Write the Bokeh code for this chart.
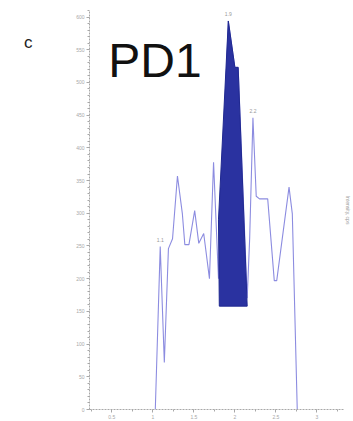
from bokeh.plotting import figure
from bokeh.models import (Label, Range1d, SingleIntervalTicker, ColumnDataSource,
                          LinearAxis, FixedTicker)
from bokeh.core.properties import value
from bokeh.embed import file_html
from bokeh.resources import INLINE

# ---- data ----
line_x = [1.03, 1.09, 1.14, 1.19, 1.24, 1.30, 1.36, 1.39, 1.44, 1.51, 1.56, 1.62, 1.69,
          1.74, 1.80, 1.92, 2.00, 2.04, 2.15, 2.18, 2.22, 2.26, 2.30, 2.40, 2.48, 2.51,
          2.66, 2.70, 2.76]
line_y = [0, 249, 72, 246, 261, 357, 299, 252, 252, 304, 254, 269, 200,
          378, 200, 594, 523, 523, 170, 261, 446, 326, 322, 322, 197, 197,
          340, 299, 0]

fill_x = [1.81, 1.80, 1.92, 2.00, 2.04, 2.15]
fill_y = [158, 290, 594, 523, 523, 158]

peak_x = [1.09, 1.92, 2.22]
peak_y = [249, 594, 446]
peak_text = ["1.1", "1.9", "2.2"]

panel_tick = [561]
panel_letter = {561: "c"}

FONT = "Liberation Sans"
GRAY = "#a8a8a8"

p = figure(width=353, height=421, output_backend="svg", toolbar_location=None,
           x_range=Range1d(0.228, 3.336), y_range=Range1d(0, 610),
           min_border_left=89, min_border_right=5, min_border_top=10,
           min_border_bottom=0)
p.background_fill_color = "white"
p.border_fill_color = "white"
p.outline_line_color = None
p.xgrid.grid_line_color = None
p.ygrid.grid_line_color = None

p.xaxis.ticker = SingleIntervalTicker(interval=0.5, num_minor_ticks=2)
p.yaxis.ticker = SingleIntervalTicker(interval=50, num_minor_ticks=5)
for ax in (p.xaxis[0], p.yaxis[0]):
    ax.axis_line_color = GRAY
    ax.axis_line_dash = "2 1"
    ax.major_tick_line_color = GRAY
    ax.minor_tick_line_color = GRAY
    ax.major_tick_out = 3
    ax.major_tick_in = 0
    ax.minor_tick_out = 2
    ax.minor_tick_in = 0
    ax.major_label_text_font_size = "5px"
    ax.major_label_text_color = GRAY
    ax.major_label_text_font = FONT
    ax.major_label_standoff = 2

# panel letter "c" as an outer left axis with a single labelled tick
letter_axis = LinearAxis(ticker=FixedTicker(ticks=panel_tick),
                         major_label_overrides=panel_letter,
                         axis_line_color=None, major_tick_line_color=None,
                         minor_tick_line_color=None,
                         major_label_text_font=FONT,
                         major_label_text_font_size="17px",
                         major_label_text_color="#222222",
                         major_label_standoff=35)
p.add_layout(letter_axis, "left")

# right-side rotated caption
cap_axis = LinearAxis(ticker=FixedTicker(ticks=[]), axis_line_color=None,
                      major_tick_line_color=None, minor_tick_line_color=None,
                      major_label_text_font_size="0px",
                      axis_label="Intensity, cps", axis_label_text_font=FONT,
                      axis_label_text_font_size="5px",
                      axis_label_text_font_style="normal",
                      axis_label_text_color="#999999", axis_label_standoff=0)
p.add_layout(cap_axis, "right")

# chromatogram trace
p.line(line_x, line_y, line_color="#8c8ce0", line_width=1.1)

# highlighted peak area
p.patch(fill_x, fill_y, fill_color="#2a32a0", line_color="#1f2890", line_width=1)

src = ColumnDataSource(dict(x=peak_x, y=peak_y, t=peak_text))
p.text(x="x", y="y", text="t", source=src, text_font=value(FONT),
       text_font_size="5px", text_color="#999999", text_align="center",
       text_baseline="bottom", y_offset=-5)

p.add_layout(Label(x=0.456, y=574, text="PD1", text_font=FONT,
                   text_font_size="48px", text_color="#111111",
                   text_baseline="top", text_align="left"))

open("out.html", "w").write(file_html(p, INLINE))
